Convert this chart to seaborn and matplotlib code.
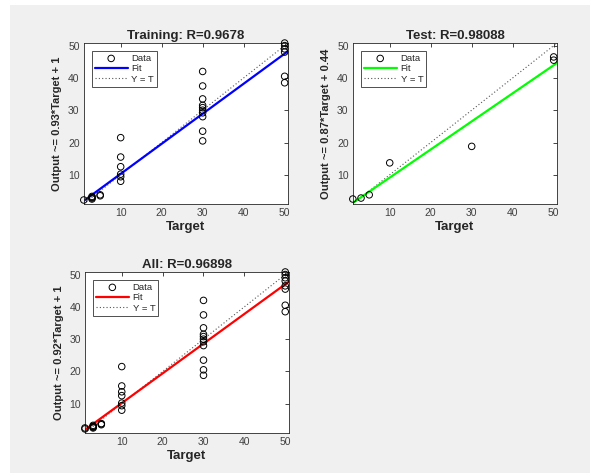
import matplotlib
matplotlib.use("Agg")
import matplotlib.pyplot as plt
import seaborn as sns
import numpy as np
import pandas as pd
from matplotlib.patches import Rectangle

sns.set_style("white")
plt.rcParams['font.family'] = ['Liberation Sans', 'DejaVu Sans']

# Training data (target, output)
train_target = [1, 3, 3, 3, 3, 5, 5,
                10, 10, 10, 10, 10, 10,
                30, 30, 30, 30, 30, 30, 30, 30, 30, 30,
                50, 50, 50, 50, 50, 50]
train_output = [2.2, 2.5, 3.0, 3.3, 2.8, 3.5, 3.8,
                8.0, 9.4, 10.2, 12.5, 15.5, 21.5,
                20.5, 23.5, 28.0, 29.2, 30.0, 30.8, 31.5, 33.5, 37.5, 42.0,
                38.5, 40.5, 48.0, 49.0, 50.0, 50.8]

# Test data
test_target = [1, 3, 5, 10, 30, 50, 50]
test_output = [2.5, 2.8, 3.8, 13.7, 18.8, 45.5, 46.5]

# All data = training + test
all_target = train_target + test_target
all_output = train_output + test_output

# Fit coefficients (slope, intercept)
train_fit = (0.93, 1.0)
test_fit = (0.87, 0.44)
all_fit = (0.92, 1.0)

panels = [
    ("Training: R=0.9678", "Output ~= 0.93*Target + 1", train_target, train_output, train_fit, "#0000ff"),
    ("Test: R=0.98088", "Output ~= 0.87*Target + 0.44", test_target, test_output, test_fit, "#00ff00"),
    ("All: R=0.96898", "Output ~= 0.92*Target + 1", all_target, all_output, all_fit, "#ff0000"),
]
positions = [
    [0.142, 0.569, 0.346, 0.340],
    [0.598, 0.569, 0.346, 0.340],
    [0.144, 0.085, 0.345, 0.340],
]
lims = (1, 50.8)
ticks = [10, 20, 30, 40, 50]

fig = plt.figure(figsize=(5.9, 4.73), dpi=100)
fig.patch.set_facecolor("white")
fig.patches.append(Rectangle((10 / 590, 0), 1, 1 - 5 / 473, transform=fig.transFigure,
                             facecolor="#f0f0f0", edgecolor="none", zorder=-10))

for (title, ylab, tx, ty, fit, color), pos in zip(panels, positions):
    ax = fig.add_axes(pos)
    ax.set_facecolor("white")
    df = pd.DataFrame({"Target": tx, "Output": ty})
    line_x = np.array(lims)
    fit_df = pd.DataFrame({"x": line_x, "y": fit[0] * line_x + fit[1]})
    ident_df = pd.DataFrame({"x": line_x, "y": line_x})

    sns.scatterplot(data=df, x="Target", y="Output", ax=ax, marker="o", s=22,
                    facecolors="none", edgecolor="black", linewidth=0.7, label="Data",
                    zorder=3, clip_on=False)
    sns.lineplot(data=fit_df, x="x", y="y", ax=ax, color=color, linewidth=1.6, label="Fit", zorder=2)
    sns.lineplot(data=ident_df, x="x", y="y", ax=ax, color="#555555", linewidth=0.8,
                 linestyle=(0, (1, 2)), label="Y = T", zorder=1)

    ax.set_xlim(lims)
    ax.set_ylim(lims)
    ax.set_xticks(ticks)
    ax.set_yticks(ticks)
    ax.tick_params(direction="in", length=3, width=0.6, labelsize=7.5, labelcolor="#404040",
                   top=True, right=True, pad=3)
    for sp in ax.spines.values():
        sp.set_color("#262626")
        sp.set_linewidth(0.6)
    ax.set_title(title, fontsize=9.5, fontweight="bold", pad=3)
    ax.set_xlabel("Target", fontsize=9.5, fontweight="bold", labelpad=2)
    ax.set_ylabel(ylab, fontsize=8, fontweight="bold", labelpad=4)

    leg = ax.legend(loc="upper left", fontsize=6.8, frameon=True, fancybox=False,
                    edgecolor="black", handlelength=3.5, borderpad=0.3,
                    labelspacing=0.15, handletextpad=0.4, borderaxespad=0.85)
    leg.get_frame().set_linewidth(0.6)

plt.savefig("out.png", dpi=100)
